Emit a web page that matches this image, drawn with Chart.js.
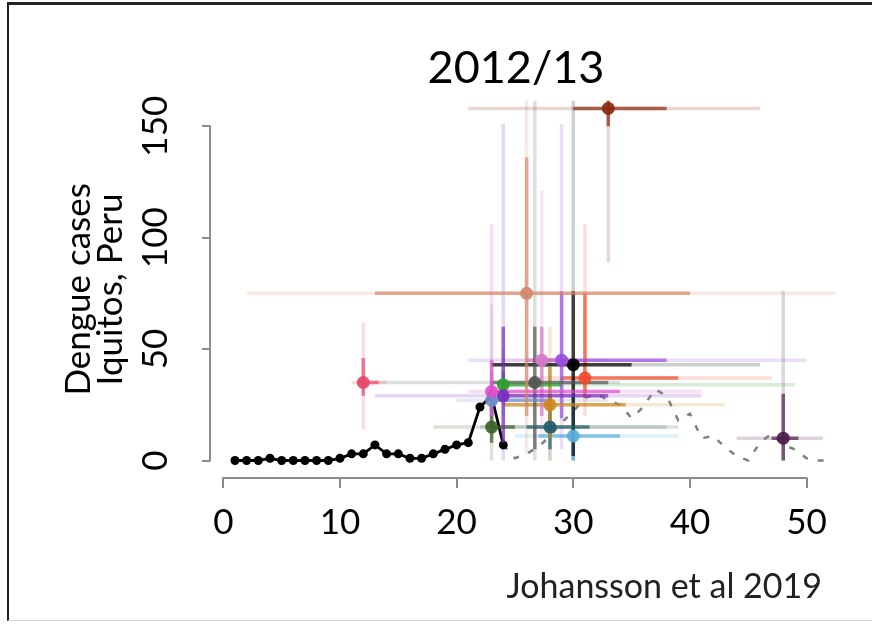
<!DOCTYPE html>
<html>
<head>
<meta charset="utf-8">
<title>Dengue forecasts 2012/13</title>
<script src="https://cdn.jsdelivr.net/npm/chart.js@4.4.1/dist/chart.umd.min.js"></script>
<style>
  html, body { margin: 0; padding: 0; background: #fff; }
  #wrap { position: relative; width: 872px; height: 626px; }
  #frame {
    position: absolute; left: 7px; top: 2px; width: 865px; height: 619px;
    border-left: 2px solid #222; border-top: 3px solid #222; border-bottom: 1px solid #d4d4d4;
    box-sizing: border-box;
  }
  canvas { position: absolute; left: 0; top: 0; }
</style>
</head>
<body>
<div id="wrap">
  <div id="frame"></div>
  <canvas id="chart" width="872" height="626"></canvas>
</div>
<script>
// observed weekly cases, solid part (up to forecast week)
const obsWeeks = [1, 2, 3, 4, 5, 6, 7, 8, 9, 10, 11, 12, 13, 14, 15, 16, 17, 18, 19, 20, 21, 22, 23, 24];
const obsCases = [0, 0, 0, 1, 0, 0, 0, 0, 0, 1, 3, 3, 7, 3, 3, 1, 1, 3, 5, 7, 8, 24, 29, 7];

// observed weekly cases for the rest of the season (dashed)
const laterWeeks = [24, 25, 26, 27, 28, 29, 30, 31, 32, 33, 34, 35, 36, 37, 38, 39, 40, 41, 42, 43, 44, 45, 46, 47, 48, 49, 50, 51, 52];
const laterCases = [7, 1, 3, 6, 11, 17, 22, 28, 30, 27, 25, 19, 24, 32, 29, 18, 21, 10, 11, 6, 2, 0, 8, 12, 7, 5, 1, 0, 0];

// forecasts: peak week / peak incidence with 50% and 95% intervals
const peakWeek  = [33, 26, 12, 23, 23, 24, 24, 23, 26.7, 27.3, 28, 28, 29, 30, 31, 30, 48];
const peakCases = [158, 75, 35, 31, 27, 29, 34, 15, 35, 45, 25, 15, 45, 43, 37, 11, 10];
const weekLo50  = [30, 13, 11.5, 23, 23, 24, 24, 23, 23, 26, 24, 26, 27, 23, 29, 27, 47];
const weekHi50  = [38, 40, 13.3, 34, 28, 33, 29, 25, 33, 29, 34.5, 31.4, 38, 35, 39, 34, 49.3];
const weekLo95  = [21, 2, 11, 21, 20, 13, 24, 18, 13, 24, 24, 22, 21, 23, 27, 25, 44];
const weekHi95  = [46, 52.5, 14, 41, 33, 41, 49, 39, 34, 33, 43, 38, 50, 46, 47, 39, 51.4];
const casesLo50 = [150, 20, 29, 20, 20, 8, 28, 8, 5, 20, 10, 5, 19, 2, 28, 0, 0];
const casesHi50 = [165, 136, 46, 45, 35, 60, 40, 25, 60, 60, 42, 30, 76, 76, 75, 30, 30];
const casesLo95 = [89, 3, 14, 8, 10, 0, 20, 0, 0, 10, 0, 0, 5, 0, 20, 0, 0];
const casesHi95 = [175, 175, 62, 106, 70, 151, 50, 40, 175, 121, 60, 45, 151, 175, 106, 45, 76];

const xTicks = [0, 10, 20, 30, 40, 50];
const yTicks = [0, 50, 100, 150];

// styling
const teamColors = ['#8b2a10', '#d4896b', '#e8456a', '#e04fd0', '#6f8cc8', '#7b2cbf', '#2ca02c', '#3f6428',
  '#555555', '#d678c8', '#cc8a20', '#1f5e6e', '#9a4de0', '#000000', '#ee4b2b', '#5bb0de', '#4b1d4b'];
const FONT = "Lato, 'Open Sans', sans-serif";
const AXIS_GREY = '#8c8c8c';
const topClip = { left: false, top: 0, right: false, bottom: false };

function rgba(hex, a) {
  const n = parseInt(hex.slice(1), 16);
  return `rgba(${n >> 16},${(n >> 8) & 255},${n & 255},${a})`;
}

function segment(x1, y1, x2, y2, color, width, order) {
  return {
    data: [{ x: x1, y: y1 }, { x: x2, y: y2 }],
    showLine: true, borderColor: color, borderWidth: width,
    pointRadius: 0, borderCapStyle: 'butt', clip: topClip, order: order
  };
}

const datasets = [];

datasets.push({
  data: obsWeeks.map((w, i) => ({ x: w, y: obsCases[i] })),
  showLine: true, borderColor: '#000', borderWidth: 2.8,
  pointRadius: 4.5, pointBackgroundColor: '#000', pointBorderWidth: 0,
  clip: topClip, order: 3
});
datasets.push({
  data: laterWeeks.map((w, i) => ({ x: w, y: laterCases[i] })),
  showLine: true, borderColor: '#808080', borderWidth: 2.5, borderDash: [6, 10],
  pointRadius: 0, clip: topClip, order: 3
});

peakWeek.forEach((w, i) => {
  const c = teamColors[i];
  const v = peakCases[i];
  datasets.push(segment(weekLo95[i], v, weekHi95[i], v, rgba(c, 0.19), 3.5, 5));
  datasets.push(segment(w, casesLo95[i], w, casesHi95[i], rgba(c, 0.19), 3.5, 5));
  datasets.push(segment(weekLo50[i], v, weekHi50[i], v, rgba(c, 0.7), 3.5, 2));
  datasets.push(segment(w, casesLo50[i], w, casesHi50[i], rgba(c, 0.7), 3.5, 2));
  datasets.push({
    data: [{ x: w, y: v }], pointRadius: 6.5, pointBackgroundColor: rgba(c, 0.92),
    pointBorderWidth: 0, clip: topClip, order: 1
  });
});

const axisLines = {
  id: 'axisLines',
  beforeDatasetsDraw(chart) {
    const { ctx, chartArea, scales: { x, y } } = chart;
    ctx.save();
    ctx.strokeStyle = AXIS_GREY;
    ctx.lineWidth = 2;
    ctx.beginPath();
    ctx.moveTo(x.getPixelForValue(xTicks[0]) - 1, chartArea.bottom);
    ctx.lineTo(x.getPixelForValue(xTicks[xTicks.length - 1]) + 1, chartArea.bottom);
    ctx.moveTo(chartArea.left, y.getPixelForValue(yTicks[0]) + 1);
    ctx.lineTo(chartArea.left, y.getPixelForValue(yTicks[yTicks.length - 1]) - 1);
    ctx.stroke();
    ctx.restore();
  }
};

new Chart(document.getElementById('chart'), {
  type: 'scatter',
  data: { datasets: datasets },
  plugins: [axisLines],
  options: {
    responsive: false,
    animation: false,
    events: [],
    layout: { padding: { left: 0, right: 50, top: 0, bottom: 0 } },
    plugins: {
      legend: { display: false },
      tooltip: { enabled: false },
      title: {
        display: true, text: '2012/13', fullSize: false, color: '#000',
        font: { family: FONT, size: 45, weight: 'normal', lineHeight: 1.2 },
        padding: { top: 41, bottom: 5.8 }
      }
    },
    scales: {
      x: {
        type: 'linear', min: -1.14, max: 51.32,
        afterBuildTicks: s => { s.ticks = xTicks.map(v => ({ value: v })); },
        afterFit: s => { s.height = 148; },
        grid: { drawOnChartArea: false, drawTicks: true, tickLength: 10, color: AXIS_GREY, lineWidth: 2 },
        border: { display: false },
        ticks: { font: { family: FONT, size: 35 }, color: '#000', padding: 14, autoSkip: false, maxRotation: 0 },
        title: {
          display: true, text: 'Johansson et al 2019', align: 'end', color: '#222',
          font: { family: FONT, size: 34, lineHeight: '38px' },
          padding: { top: 0, bottom: 20 }
        }
      },
      y: {
        type: 'linear', min: -7.85, max: 161.4,
        afterBuildTicks: s => { s.ticks = yTicks.map(v => ({ value: v })); },
        afterFit: s => { s.width = 210; },
        grid: { drawOnChartArea: false, drawTicks: true, tickLength: 8, color: AXIS_GREY, lineWidth: 2 },
        border: { display: false },
        ticks: {
          font: { family: FONT, size: 35 }, color: '#000', padding: 16,
          minRotation: 90, maxRotation: 90, crossAlign: 'center', autoSkip: false
        },
        title: {
          display: true, text: ['Dengue cases', 'Iquitos, Peru'], color: '#000',
          font: { family: FONT, size: 35, lineHeight: '32px' },
          padding: { top: 63, bottom: 0 }
        }
      }
    }
  }
});
</script>
</body>
</html>
